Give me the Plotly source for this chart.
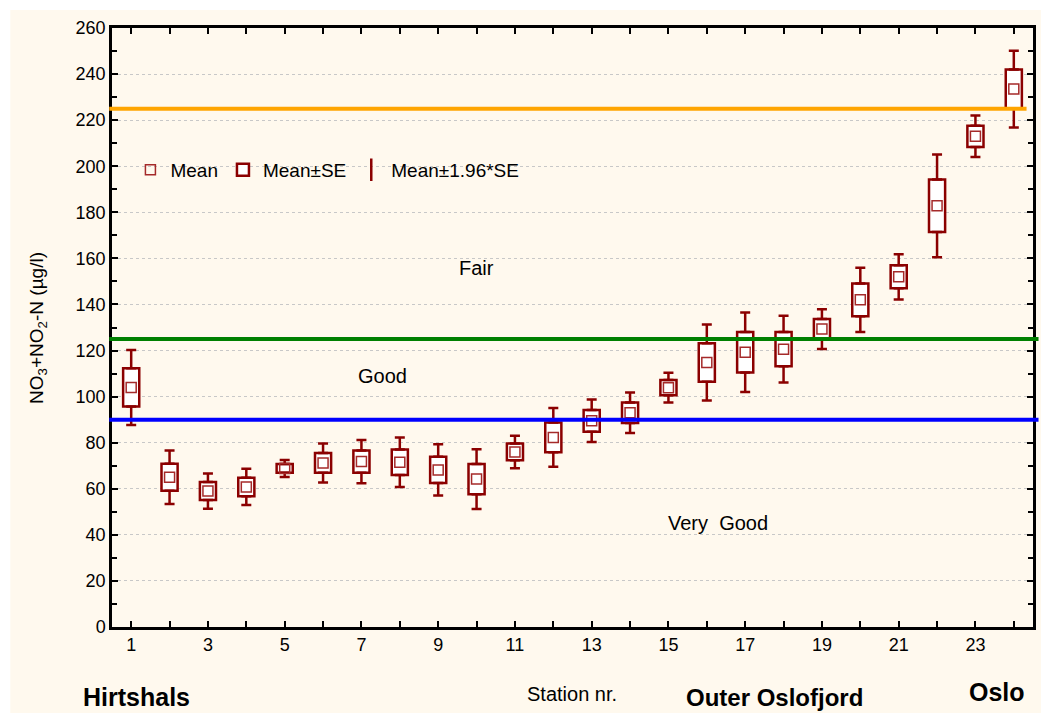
import plotly.graph_objects as go

# ---- data ----
stations = list(range(1, 25))
means = [104.0, 65.0, 59.0, 60.8, 68.8, 71.2, 71.8, 71.5, 68.2, 64.2, 76.0, 82.3,
         89.5, 93.0, 103.9, 114.8, 119.3, 120.6, 129.3, 142.0, 152.0, 182.8, 213.0, 233.5]
se = [8.3, 5.9, 3.9, 4.0, 1.9, 4.3, 4.8, 5.5, 5.7, 6.6, 3.6, 6.5,
      4.7, 4.5, 3.3, 8.4, 8.8, 7.4, 4.4, 7.1, 5.0, 11.4, 4.6, 8.5]
label_stations = [s for s in stations if s % 2 == 1]
tick_labels = [str(s) for s in label_stations]
thresholds = [90, 125, 225]
threshold_colors = ["#0000FF", "#008000", "#FFA500"]
class_labels = ["Very  Good", "Good", "Fair"]
class_x = [16.3, 7.55, 10.0]
class_y = [45, 109, 156]
region_labels = ["Hirtshals", "Outer Oslofjord", "Oslo"]

DR = "#8B0000"
box_lo = [m - s for m, s in zip(means, se)]
box_hi = [m + s for m, s in zip(means, se)]
box_h = [2 * s for s in se]
whisk = [0.96 * s for s in se]
FONT = "Arial, Liberation Sans, sans-serif"

fig = go.Figure()

fig.add_trace(go.Bar(
    x=stations, y=box_h, base=box_lo, width=0.42,
    marker=dict(color="white", line=dict(color=DR, width=2.5)),
    name="Mean±SE", legendrank=2, hoverinfo="skip",
))
fig.add_trace(go.Scatter(
    x=stations, y=box_hi, mode="markers",
    marker=dict(size=1, color="rgba(0,0,0,0)"),
    error_y=dict(type="data", symmetric=False, array=whisk, arrayminus=[0] * 24,
                 color=DR, thickness=2.5, width=5),
    showlegend=False, hoverinfo="skip",
))
fig.add_trace(go.Scatter(
    x=stations, y=box_lo, mode="markers",
    marker=dict(size=1, color="rgba(0,0,0,0)"),
    error_y=dict(type="data", symmetric=False, array=[0] * 24, arrayminus=whisk,
                 color=DR, thickness=2.5, width=5),
    showlegend=False, hoverinfo="skip",
))
fig.add_trace(go.Scatter(
    x=stations, y=means, mode="markers",
    marker=dict(symbol="square-open", size=10, color="#A52A2A", line=dict(width=1.5)),
    name="Mean", legendrank=1,
))
fig.add_trace(go.Scatter(
    x=[None], y=[None], mode="markers",
    marker=dict(symbol="line-ns-open", size=18, color=DR, line=dict(width=2.5, color=DR)),
    name="Mean±1.96*SE", legendrank=3,
))

# threshold lines
ends = [1.006, 1.006, 0.993]
for t, c, e in zip(thresholds, threshold_colors, ends):
    fig.add_shape(type="line", xref="paper", yref="y", x0=-0.003, x1=e, y0=t, y1=t,
                  line=dict(color=c, width=4), layer="above")

# cream background
fig.add_shape(type="rect", xref="paper", yref="paper", x0=-0.1104, x1=1.01,
              y0=-0.15, y1=1.030, fillcolor="#FFF9EE", line=dict(width=0), layer="below")

for lab, xx, yy in zip(class_labels, class_x, class_y):
    fig.add_annotation(x=xx, y=yy, xref="x", yref="y", text=lab, showarrow=False,
                       xanchor="center", yanchor="middle",
                       font=dict(size=20, color="black"))

# region labels and axis titles
def paper_note(x, y, text, size, angle=0):
    fig.add_annotation(x=x, y=y, xref="paper", yref="paper", text=text, showarrow=False,
                       xanchor="center", yanchor="middle", textangle=angle,
                       font=dict(size=size, color="black"))

paper_note(0.0267, -0.1169, "<b>" + region_labels[0] + "</b>", 25)
paper_note(0.7197, -0.1185, "<b>" + region_labels[1] + "</b>", 24)
paper_note(0.961, -0.1085, "<b>" + region_labels[2] + "</b>", 25)
paper_note(0.4997, -0.1123, "Station nr.", 20)
paper_note(-0.081, 0.5, "NO<sub>3</sub>+NO<sub>2</sub>-N (µg/l)", 19, -90)

fig.update_layout(
    width=1041, height=713,
    margin=dict(l=112, r=5, t=28, b=86),
    paper_bgcolor="white", plot_bgcolor="white",
    font=dict(family=FONT, color="black"),
    barmode="overlay",
    showlegend=True,
    legend=dict(orientation="h", x=0.02, y=0.763, xanchor="left", yanchor="middle",
                bgcolor="rgba(0,0,0,0)", font=dict(size=19), itemwidth=30,
                traceorder="normal"),
)
fig.update_xaxes(
    range=[0.5, 24.5], tickmode="array", tickvals=label_stations, ticktext=tick_labels,
    ticks="inside", ticklen=6, tickwidth=2, tickcolor="black",
    minor=dict(dtick=1, tick0=0, ticks="inside", ticklen=6, tickwidth=2, tickcolor="black", showgrid=False),
    showline=True, linecolor="black", linewidth=2.5, mirror="ticks",
    showgrid=False, zeroline=False, tickfont=dict(size=18),
)
fig.update_yaxes(
    range=[0, 260], dtick=20, tick0=0,
    ticks="inside", ticklen=6, tickwidth=2, tickcolor="black",
    minor=dict(dtick=10, ticks="inside", ticklen=5, tickwidth=2, tickcolor="black", showgrid=False),
    showline=True, linecolor="black", linewidth=2.5, mirror="ticks",
    showgrid=True, gridcolor="#C8C8C8", griddash="dot", gridwidth=1,
    zeroline=False, tickfont=dict(size=18),
)

fig.write_html("out.html", config={"displayModeBar": False},
               post_script="document.body.style.margin='0';document.body.style.overflow='hidden';")
